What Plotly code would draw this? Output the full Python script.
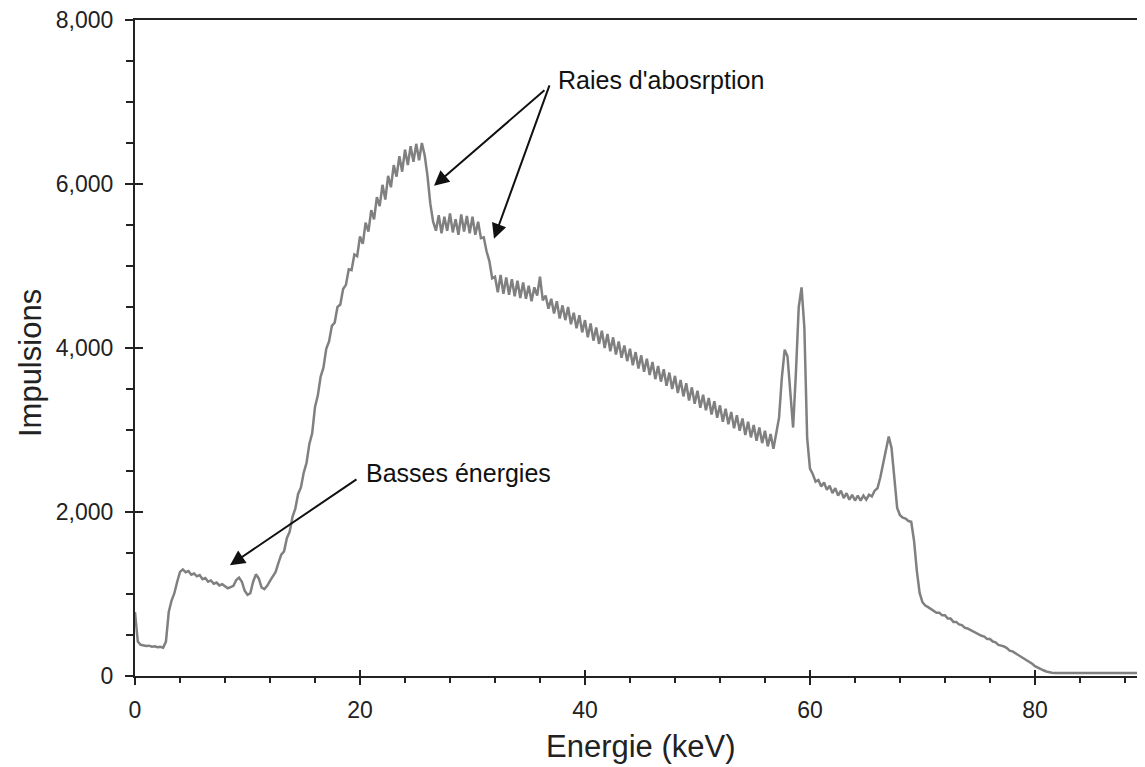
import numpy as np
import plotly.graph_objects as go

# Energy axis: 0 to 90 keV in 0.25 keV steps
energy_step = 0.25
energy_start = 0.0

# Counts, 4 values per keV (E = k, k+.25, k+.5, k+.75)
counts = [
    780, 420, 380, 372,      # 0
    366, 370, 358, 362,      # 1
    350, 355, 345, 420,      # 2
    780, 920, 1010, 1150,    # 3
    1270, 1300, 1265, 1280,  # 4
    1235, 1250, 1215, 1230,  # 5
    1180, 1195, 1150, 1165,  # 6
    1125, 1140, 1105, 1120,  # 7
    1090, 1070, 1085, 1100,  # 8
    1170, 1200, 1150, 1040,  # 9
    990, 1010, 1150, 1240,   # 10
    1190, 1080, 1060, 1100,  # 11
    1160, 1210, 1270, 1380,  # 12
    1480, 1520, 1680, 1760,  # 13
    1940, 2040, 2220, 2300,  # 14
    2480, 2600, 2830, 2960,  # 15
    3280, 3420, 3650, 3760,  # 16
    3990, 4080, 4270, 4310,  # 17
    4500, 4530, 4720, 4770,  # 18
    4960, 4950, 5140, 5120,  # 19
    5360, 5270, 5530, 5420,  # 20
    5680, 5570, 5840, 5730,  # 21
    5990, 5810, 6100, 5960,  # 22
    6230, 6090, 6340, 6150,  # 23
    6420, 6230, 6460, 6270,  # 24
    6490, 6290, 6500, 6350,  # 25
    6100, 5760, 5540, 5430,  # 26
    5620, 5400, 5600, 5430,  # 27
    5640, 5410, 5570, 5380,  # 28
    5630, 5420, 5610, 5400,  # 29
    5600, 5380, 5540, 5340,  # 30
    5350, 5180, 5060, 4850,  # 31
    4870, 4680, 4890, 4660,  # 32
    4860, 4650, 4840, 4630,  # 33
    4820, 4610, 4800, 4600,  # 34
    4760, 4570, 4740, 4640,  # 35
    4870, 4580, 4640, 4480,  # 36
    4600, 4420, 4570, 4360,  # 37
    4520, 4340, 4500, 4290,  # 38
    4430, 4240, 4400, 4190,  # 39
    4340, 4130, 4300, 4090,  # 40
    4250, 4050, 4210, 4000,  # 41
    4170, 3960, 4130, 3920,  # 42
    4080, 3880, 4030, 3840,  # 43
    3990, 3790, 3950, 3750,  # 44
    3910, 3710, 3870, 3670,  # 45
    3830, 3620, 3780, 3590,  # 46
    3740, 3540, 3700, 3500,  # 47
    3660, 3450, 3610, 3410,  # 48
    3570, 3360, 3520, 3320,  # 49
    3480, 3270, 3430, 3240,  # 50
    3390, 3190, 3350, 3150,  # 51
    3300, 3100, 3260, 3070,  # 52
    3220, 3020, 3180, 2990,  # 53
    3140, 2940, 3100, 2910,  # 54
    3060, 2870, 3030, 2840,  # 55
    2990, 2800, 2950, 2770,  # 56
    2960, 3150, 3640, 3980,  # 57
    3900, 3450, 3030, 3700,  # 58
    4500, 4740, 4250, 2900,  # 59
    2530, 2460, 2370, 2390,  # 60
    2310, 2360, 2270, 2320,  # 61
    2230, 2290, 2200, 2260,  # 62
    2170, 2230, 2150, 2210,  # 63
    2140, 2200, 2140, 2200,  # 64
    2150, 2210, 2190, 2260,  # 65
    2290, 2420, 2580, 2780,  # 66
    2920, 2780, 2450, 2050,  # 67
    1960, 1930, 1920, 1890,  # 68
    1880, 1650, 1280, 1010,  # 69
    900, 860, 840, 820,      # 70
    800, 770, 770, 740,      # 71
    740, 700, 700, 660,      # 72
    660, 630, 620, 590,      # 73
    580, 560, 550, 520,      # 74
    510, 490, 480, 450,      # 75
    450, 420, 410, 380,      # 76
    370, 360, 340, 310,      # 77
    300, 280, 260, 230,      # 78
    220, 190, 180, 150,      # 79
    120, 100, 85, 70,        # 80
    55, 45, 40, 38,          # 81
    38, 36, 40, 37,          # 82
    39, 36, 41, 37,          # 83
    38, 42, 36, 39,          # 84
    37, 40, 36, 41,          # 85
    38, 36, 40, 37,          # 86
    42, 37, 39, 36,          # 87
    40, 37, 41, 38,          # 88
    36, 40, 37, 39,          # 89
    38,                      # 90
]

energies = energy_start + energy_step * np.arange(len(counts))

x_major_ticks = [0, 20, 40, 60, 80]
y_major_ticks = [0, 2000, 4000, 6000, 8000]
x_title = "Energie (keV)"
y_title = "Impulsions"
label_absorption = "Raies d'abosrption"
label_low = "Basses énergies"

AX = "#222222"
FONT = "Liberation Sans, Arial, sans-serif"

fig = go.Figure()
fig.add_trace(go.Scatter(
    x=energies, y=counts, mode="lines",
    line=dict(color="#808080", width=2.5, shape="linear"),
    showlegend=False, hoverinfo="skip",
))
# empty trace on overlay axes (for inner half of major ticks)
fig.add_trace(go.Scatter(x=[], y=[], xaxis="x2", yaxis="y2", showlegend=False))

X_RANGE = [0, 89.78]
Y_RANGE = [0, 8000]

# page body adds an 8px offset; size and margins compensate
fig.update_layout(
    width=1137, height=759,
    margin=dict(l=127, r=0, t=12, b=91),
    paper_bgcolor="white", plot_bgcolor="white",
    font=dict(family=FONT, color=AX),
    xaxis=dict(
        range=X_RANGE, tickvals=x_major_ticks, ticks="outside", ticklen=7,
        tickwidth=2, tickcolor=AX, showline=True, linecolor=AX, linewidth=2,
        mirror=True, showgrid=False, zeroline=False,
        tickfont=dict(size=23, family=FONT, color=AX), ticklabelstandoff=5,
        ticklabeloverflow="allow",
        minor=dict(tickvals=[v for v in range(0, 90, 4)], ticks="outside",
                   ticklen=5, tickwidth=2, tickcolor=AX, showgrid=False),
    ),
    yaxis=dict(
        range=Y_RANGE, tickvals=y_major_ticks, ticks="outside", ticklen=8,
        tickwidth=2, tickcolor=AX, showline=True, linecolor=AX, linewidth=2,
        showgrid=False, zeroline=False, tickformat=",d",
        tickfont=dict(size=23, family=FONT, color=AX), ticklabelstandoff=7,
        ticklabeloverflow="allow",
        minor=dict(tickvals=[v for v in range(0, 8001, 500)], ticks="outside",
                   ticklen=7, tickwidth=2, tickcolor=AX, showgrid=False),
    ),
    xaxis2=dict(
        range=X_RANGE, overlaying="x", anchor="y", side="bottom",
        tickvals=x_major_ticks, ticks="inside", ticklen=6, tickwidth=2,
        tickcolor=AX, showticklabels=False, showline=False, showgrid=False,
        zeroline=False,
    ),
    yaxis2=dict(
        range=Y_RANGE, overlaying="y", anchor="x", side="left",
        tickvals=y_major_ticks, ticks="inside", ticklen=8, tickwidth=2,
        tickcolor=AX, showticklabels=False, showline=False, showgrid=False,
        zeroline=False,
    ),
)

annotations = [
    # axis titles
    dict(text=x_title, xref="paper", yref="paper", x=0.501, y=-0.107,
         xanchor="center", yanchor="middle", showarrow=False,
         font=dict(size=31, family=FONT, color=AX)),
    dict(text=y_title, xref="paper", yref="paper", x=-0.104, y=0.477,
         xanchor="center", yanchor="middle", showarrow=False, textangle=-90,
         font=dict(size=31, family=FONT, color=AX)),
    # labels
    dict(text=label_absorption, x=46.76, y=7269, xref="x", yref="y",
         showarrow=False, xanchor="center", yanchor="middle",
         font=dict(size=25, family=FONT, color="#111111")),
    dict(text=label_low, x=28.8, y=2472, xref="x", yref="y",
         showarrow=False, xanchor="center", yanchor="middle",
         font=dict(size=25, family=FONT, color="#111111")),
]
arrows = [
    ((26.58, 5978), (36.53, 7159)),
    ((31.91, 5333), (36.89, 7220)),
    ((8.44, 1351), (19.82, 2411)),
]
for (hx, hy), (tx, ty) in arrows:
    annotations.append(dict(
        x=hx, y=hy, ax=tx, ay=ty, xref="x", yref="y", axref="x", ayref="y",
        text="", showarrow=True, arrowhead=2, arrowsize=1.5, arrowwidth=2,
        arrowcolor="#111111", standoff=0, startstandoff=0,
    ))
fig.update_layout(annotations=annotations)

fig.write_html("out.html")
